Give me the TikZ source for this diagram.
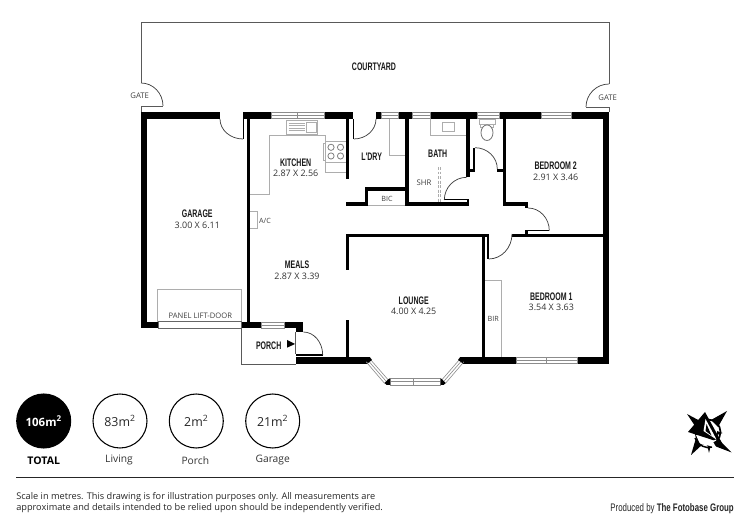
\documentclass[tikz,border=0pt]{standalone}
\usepackage{fontspec}
\usetikzlibrary{calc}
\setmainfont{Open Sans}
\newfontfamily\headfont[FakeStretch=0.64]{Liberation Sans}
\newfontfamily\creditfont[FakeStretch=0.72]{Liberation Sans}
\newcommand{\qarc}[3]{\draw[doorline] (#1) .. controls ($(#1)!.5523!(#3)$) and ($(#2)!.5523!(#3)$) .. (#2);}
\newcommand{\fs}[1]{\fontsize{#1}{#1}\selectfont}
\tikzset{
  wall/.style={fill=black,draw=none},
  doorline/.style={draw=black!75,line width=0.55pt},
  fixture/.style={draw=black!32,line width=0.6pt},
  glass/.style={fill=white,draw=black!45,line width=0.45pt},
  outline/.style={draw=black!65,line width=0.6pt},
  room/.style={font=\headfont\bfseries\fs{8.2},text=black!90,inner sep=0pt},
  dims/.style={font=\fs{6.7},text=black!80,inner sep=0pt},
  small/.style={font=\fs{5.4},text=black!75,inner sep=0pt},
  ring/.style={circle,draw=black,line width=0.8pt,minimum size=40.5pt,inner sep=0pt,font=\fs{9.3},text=black!85},
  cap lab/.style={font=\fs{7.7},text=black!80,inner sep=0pt},
}
\begin{document}
\begin{tikzpicture}[x=0.75pt,y=-0.75pt]
\useasboundingbox (0,0) rectangle (750,530);
% courtyard
\draw[outline] (141,113) -- (141,106) -- (163,106);
\draw[outline] (141,83) -- (141,22.7) -- (609,22.7) -- (609,84);
\draw[outline] (586,107) -- (609,107) -- (609,112);
\qarc{141,83}{163,106}{163,83}
\qarc{586,107}{609,84}{586,84}
% fixtures
\draw[fixture] (250,194.3) -- (269,194.3) -- (269,135.7) -- (325.7,135.7) -- (325.7,172.3) -- (346,172.3);
\draw[fixture,fill=white] (286.7,120.7) rectangle (317.7,134);
\foreach \yy in {123,125.5,128,130.5} \draw[fixture] (288.5,\yy) -- (305,\yy);
\draw[fixture] (306.7,122) rectangle (316.7,132);
\draw[fixture,fill=white] (325.7,141.7) rectangle (346,162.3);
\draw[fixture,fill=white] (323.2,143.5) rectangle (325.7,160.5);
\foreach \cx/\cy in {331/147.3,340.5/147.3,331/156,340.5/156} \draw[fixture,draw=black!50] (\cx,\cy) circle[radius=3.1];
\draw[fixture] (250,211) -- (257.7,211) -- (257.7,228) -- (250,228);
\draw[fixture] (389,119) -- (389,155) -- (405,155);
\draw[fixture] (430,119) -- (430,135) -- (466,135);
\draw[fixture] (442.3,122.3) rectangle (454.3,131.7);
\draw[fixture] (479,119) rectangle (495.3,124.3);
\draw[fixture] (480.5,124.3) rectangle (493.5,127);
\draw[fixture,draw=black!55,fill=white] (487,132.7) ellipse[x radius=6,y radius=7.8];
\draw[fixture,dashed,dash pattern=on 2.2pt off 1.2pt,line width=0.5pt] (438.3,167) -- (438.3,202);
\draw[fixture,dashed,dash pattern=on 2.2pt off 1.2pt,line width=0.5pt] (440.3,167) -- (440.3,202);
\draw[fixture] (485,280) -- (501.7,280) -- (501.7,358);
\draw[fixture] (368,205.3) -- (405,205.3);
\draw[fixture] (157.7,321.7) -- (157.7,289) -- (241.7,289) -- (241.7,321.7);
% walls
\fill[wall] (141,112) rectangle (220,119);
\fill[wall] (141,112) rectangle (147.3,328);
\fill[wall] (141,321.7) rectangle (158,328);
\fill[wall] (243,112) rectangle (271,119);
\fill[wall] (324,112) rectangle (353.3,119);
\fill[wall] (246.7,119) rectangle (250.4,322);
\fill[wall] (345.7,119) rectangle (349.3,179);
\fill[wall] (376,112) rectangle (381,119);
\fill[wall] (398,112) rectangle (412,119);
\fill[wall] (430,112) rectangle (477,119);
\fill[wall] (499,112) rectangle (541,119);
\fill[wall] (571,112) rectangle (609,119);
\fill[wall] (602.7,112) rectangle (609,364);
\fill[wall] (405,119) rectangle (409,205.7);
\fill[wall] (405,202) rectangle (469.3,205.7);
\fill[wall] (466.5,199.3) rectangle (469.3,202);
\fill[wall] (444.3,199.4) rectangle (467,200.4);
\fill[wall] (365,187.3) rectangle (405,190.7);
\fill[wall] (365,187.3) rectangle (368.3,205.7);
\fill[wall] (345.7,202) rectangle (368.3,205.7);
\fill[wall] (466,119) rectangle (469.7,176.7);
\fill[wall] (466,169) rectangle (475,172.5);
\fill[wall] (472.8,147.7) rectangle (475.3,172);
\fill[wall] (502.7,119) rectangle (506,205.7);
\fill[wall] (497.3,169) rectangle (506,172);
\fill[wall] (502.7,202.3) rectangle (528,205.7);
\fill[wall] (525,202.3) rectangle (528,208);
\fill[wall] (525,229.7) rectangle (549.3,231.3);
\fill[wall] (525,229.7) rectangle (528,234);
\fill[wall] (512,233.7) rectangle (609,237);
\fill[wall] (345.7,233.7) rectangle (489.3,237);
\fill[wall] (345.7,233.7) rectangle (349.3,270);
\fill[wall] (345.7,320) rectangle (349.3,358);
\fill[wall] (481.7,237) rectangle (485.3,358);
\fill[wall] (487.2,234) rectangle (489.4,259);
\fill[wall] (296,357.3) rectangle (370,364);
\fill[wall] (460,357.3) rectangle (516,364);
\fill[wall] (577,357.3) rectangle (609,364);
\fill[wall] (241.7,321.7) rectangle (261.7,328);
\fill[wall] (284.3,321.7) rectangle (303.3,328);
\fill[wall] (296,328) rectangle (303.3,332);
\fill[wall] (296,354) rectangle (322.7,355.6);
% windows
\foreach \xa/\xb in {271/324,381/398,412/430,477/499,541/571} {
  \draw[glass] (\xa,112.4) rectangle (\xb,118.6);
  \draw[glass] (\xa,115.5) -- (\xb,115.5);
}
\draw[glass] (297.5,112.4) -- (297.5,118.6);
\draw[glass] (261.7,322) rectangle (284.3,328);
\draw[glass] (261.7,325) -- (284.3,325);
\draw[glass] (516,357.6) rectangle (577,363.7);
\draw[glass] (516,360.6) -- (577,360.6);
\draw[glass] (546.5,357.6) -- (546.5,363.7);
\draw[glass] (390,378) rectangle (440.7,385);
\draw[glass] (390,381.5) -- (440.7,381.5);
\draw[glass] (413.5,378) -- (413.5,385);
\draw[glass] (370,359) -- (366.5,362.3) -- (384.5,383.3) -- (388.3,380) -- cycle;
\draw[glass] (368.2,360.6) -- (386.4,381.6);
\draw[glass] (460,359) -- (463.5,362.3) -- (445.5,383.3) -- (441.7,380) -- cycle;
\draw[glass] (461.8,360.6) -- (443.6,381.6);
\fill[wall] (366.5,357.3) -- (370,357.3) -- (372,360) -- (367.5,363.5) -- cycle;
\fill[wall] (460,357.3) -- (463.5,357.3) -- (463,363.5) -- (458,360) -- cycle;
\fill[wall] (384.5,383) -- (388.5,379) -- (390,378.3) -- (390,385) -- (386.5,385) -- cycle;
\fill[wall] (445.5,383) -- (441.7,379) -- (440.7,378.3) -- (440.7,385) -- (443.5,385) -- cycle;
% garage door, porch
\draw[glass,draw=black!60] (158,321.7) rectangle (241.7,328);
\draw[outline] (241.7,328) -- (241.7,364) -- (296,364);
\draw[outline] (295.7,332) -- (295.7,354);
\fill[wall] (287,340) -- (295,344) -- (287,347.7) -- cycle;
% door swings
\qarc{220,119}{243,139}{220,139}
\fill[wall] (242.6,119) rectangle (243.6,139);
\fill[wall] (353.3,119) rectangle (354.3,139);
\qarc{353.8,139}{376,119}{376,139}
\qarc{444.3,200}{466.7,177.3}{444.3,177.3}
\qarc{475,147.7}{497.3,169}{497.3,147.7}
\qarc{528,208}{549.3,230.7}{549.3,208}
\qarc{488.7,259}{512,234}{512,259}
\qarc{303.3,332}{322.7,355}{322.7,332}
% labels
\node[room] (courtyard) at (374,67) {COURTYARD};
\node[small,font=\fs{5.8}] (gatel) at (139.7,96) {GATE};
\node[small,font=\fs{5.8}] (gater) at (607.7,97.3) {GATE};
\node[room] (kitchen) at (295.7,162.7) {KITCHEN};
\node[dims] (kitchend) at (295.7,173.7) {2.87 X 2.56};
\node[room] (laundry) at (371.7,157) {L'DRY};
\node[room] (bath) at (437.7,153.7) {BATH};
\node[small,font=\fs{5.8}] (shr) at (424,182.3) {SHR};
\node[small] (bic) at (387,198.7) {BIC};
\node[room] (bed2) at (555.7,165.7) {BEDROOM 2};
\node[dims] (bed2d) at (555.7,177) {2.91 X 3.46};
\node[room] (garage) at (197.3,213.7) {GARAGE};
\node[dims] (garaged) at (197.3,225) {3.00 X 6.11};
\node[small] (ac) at (265,220.5) {A/C};
\node[room] (meals) at (297,265) {MEALS};
\node[dims] (mealsd) at (297,276.7) {2.87 X 3.39};
\node[small,font=\fs{5.7}] (panel) at (200.3,316) {PANEL LIFT-DOOR};
\node[room] (porch) at (268.7,346) {PORCH};
\node[room] (lounge) at (413.7,300.7) {LOUNGE};
\node[dims] (lounged) at (413.7,311.7) {4.00 X 4.25};
\node[room] (bed1) at (551.3,296.3) {BEDROOM 1};
\node[dims] (bed1d) at (551.3,307.7) {3.54 X 3.63};
\node[small] (bir) at (493.3,319) {BIR};
% area circles
\node[ring,fill=black,text=white,font=\bfseries\fs{8.6}] (total) at (43.7,421) {106m\textsuperscript{2}};
\node[ring] (living) at (120,421) {83m\textsuperscript{2}};
\node[ring] (porcha) at (196.3,421) {2m\textsuperscript{2}};
\node[ring] (garagea) at (272.7,421) {21m\textsuperscript{2}};
\node[cap lab,font=\bfseries\fs{7.9},text=black] (totall) at (43.7,461) {TOTAL};
\node[cap lab] (livingl) at (119,460) {Living};
\node[cap lab] (porchl) at (195.3,461) {Porch};
\node[cap lab] (garagel) at (272.7,460) {Garage};
\draw[draw=black!85,line width=0.9pt] (16,477.7) -- (734,477.7);
\node[anchor=west,font=\fs{6.9},text=black!85,inner sep=0pt] (note1) at (16,497.3) {Scale in metres. This drawing is for illustration purposes only. All measurements are};
\node[anchor=west,font=\fs{6.9},text=black!85,inner sep=0pt] (note2) at (16,508.3) {approximate and details intended to be relied upon should be independently verified.};
\node[anchor=east,font=\creditfont\fs{8.2},text=black!85,inner sep=0pt] (credit) at (734,508.3) {Produced by {\bfseries The Fotobase Group}};
% compass
\draw[black,line width=1.3pt] (708,432) circle[radius=12.5];
\fill[black] (687,414) -- (702,422) -- (697,429) -- cycle;
\fill[black] (727,411) -- (718,427) -- (711,420) -- cycle;
\fill[black] (691,455) -- (696,438) -- (703,444) -- cycle;
\fill[black] (731.7,452.5) -- (717,438) -- (712,445) -- cycle;
\fill[black] (722.5,433) -- (717,431) -- (717,435) -- cycle;
\fill[black] (709,453) -- (707,444) -- (711,444) -- cycle;
\fill[white] (696,435) -- (712,440) -- (716,447) -- (700,444) -- cycle;
\fill[black] (705,412) -- (688,432) -- (722,443) -- cycle;
\fill[white] (705.5,419) -- (703.5,431) -- (716.5,439.5) -- cycle;
\fill[black] (706.5,424) -- (705.5,431) -- (711.5,435.5) -- cycle;
\draw[white,line width=0.8pt] (709,444) -- (716,440);
\draw[black,line width=1.1pt] (695,438) .. controls (699,446) and (706,449) .. (712,447);
\end{tikzpicture}
\end{document}
